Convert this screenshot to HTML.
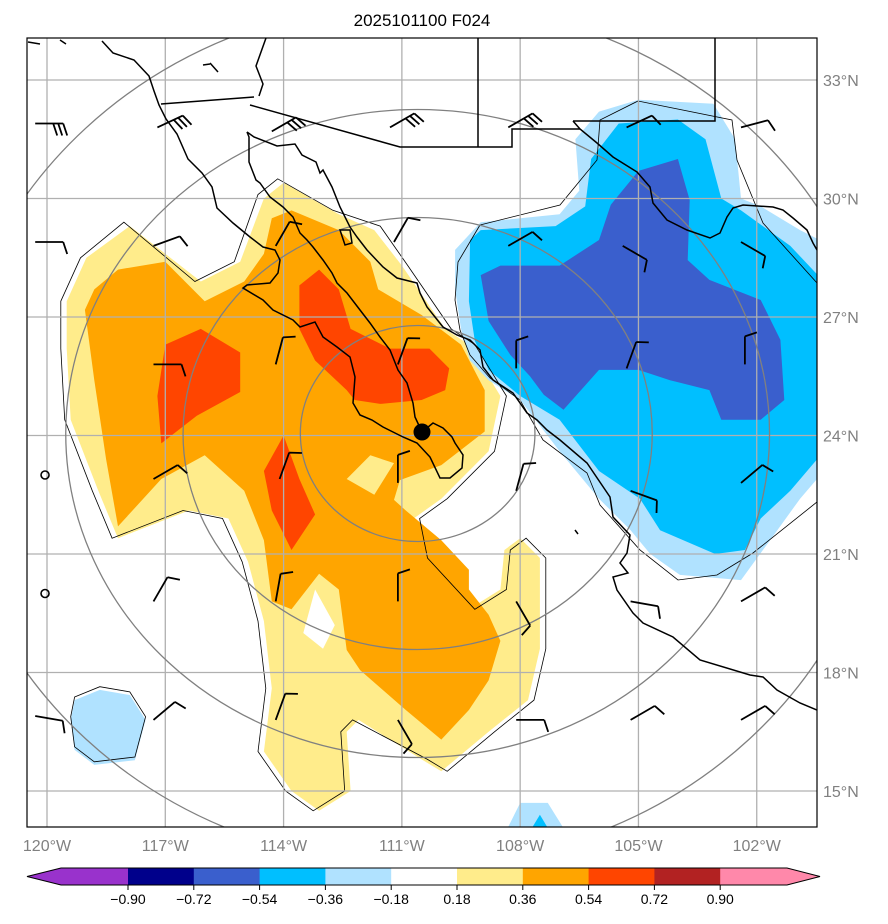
<!DOCTYPE html>
<html><head><meta charset="utf-8"><style>
body{margin:0;background:#fff;}
svg{display:block;font-family:"Liberation Sans","DejaVu Sans",sans-serif;}
</style></head><body>
<svg id="chart" width="888" height="924" viewBox="0 0 888 924" xmlns="http://www.w3.org/2000/svg">
<text x="422" y="26" font-size="17" text-anchor="middle" fill="#000">2025101100 F024</text>
<defs><clipPath id="mapclip"><rect x="27" y="38" width="790" height="789"/></clipPath></defs>
<g id="fills" clip-path="url(#mapclip)"></g>
<g id="grid" clip-path="url(#mapclip)"></g>
<g id="rings" clip-path="url(#mapclip)"></g>
<g id="coast" clip-path="url(#mapclip)" fill="none" stroke="#000" stroke-width="1.5"></g>
<g id="barbs" clip-path="url(#mapclip)" stroke="#000" stroke-width="1.8" fill="none"></g>
<rect x="27" y="38" width="790" height="789" fill="none" stroke="#000" stroke-width="1.2"/>
<g id="axes" font-size="16" fill="#808080"></g>
<g id="cbar"></g>
</svg>
<script>
// ---- data ----
const lonTicks=[-120,-117,-114,-111,-108,-105,-102];
const latTicks=[33,30,27,24,21,18,15];
const levels=[-0.90,-0.72,-0.54,-0.36,-0.18,0.18,0.36,0.54,0.72,0.90];
const levelColors=["#9932CC","#00008B","#3A5FCD","#00BFFF","#B0E2FF","#FFFFFF","#FFEC8B","#FFA500","#FF4500","#B22222","#FF88AA"];
const center=[-110.6,24.05];
const ringRadiiDeg=[3,6,9,12];
const yellow=[[-119.5,27.4],[-119,28.5],[-117.9,29.3],[-116.1,27.9],[-115.1,28.4],[-114.5,30],[-114,30.4],[-112.6,29.6],[-111.7,29.2],[-111,28.3],[-109.9,26.7],[-109.3,26.3],[-108.5,25],[-108.8,23.6],[-110,22.4],[-110.7,21.9],[-110.5,20.9],[-109.3,19.6],[-108.5,20.1],[-108.4,21.1],[-108,21.4],[-107.5,20.9],[-107.5,18.6],[-107.8,17.3],[-108.8,16.5],[-110,15.5],[-110.5,15.8],[-112.1,16.8],[-112.4,16.5],[-112.3,15],[-113.1,14.5],[-113.8,15],[-114.5,16],[-114.3,17.6],[-114.5,19.3],[-114.9,20.8],[-115.4,21.9],[-116.4,22.1],[-118.2,21.4],[-118.7,22.6],[-119.4,24.4],[-119.5,26.2]];
const yellowHole=[[-113.2,20.1],[-112.7,19.2],[-113,18.6],[-113.5,19.0]];
const orange=[[-119.04,27.18],[-118.8,27.7],[-118.2,28.2],[-117,28.4],[-116,27.4],[-115,27.9],[-114.5,28.6],[-114.3,29.5],[-113.8,29.7],[-112.6,29.2],[-111.8,28.4],[-111.6,27.7],[-110.5,27.05],[-109.5,26.3],[-108.9,25.15],[-108.9,24.1],[-110,23.25],[-111.05,22.87],[-111.2,22.37],[-110.9,22.1],[-110,21.35],[-109.3,20.6],[-109.3,20.1],[-108.8,19.46],[-108.5,18.8],[-108.8,17.8],[-109.3,17.05],[-110,16.3],[-110.9,17.05],[-112.06,18.06],[-112.4,18.57],[-112.6,20.1],[-113.1,20.5],[-113.8,19.6],[-114.3,19.8],[-114.5,21.35],[-115,22.6],[-116,23.5],[-117.1,22.9],[-118.2,21.7],[-118.5,23.4],[-118.8,25.4]];
const yellowIsland=[[-112.4,22.9],[-111.8,23.5],[-111.2,23.3],[-111.7,22.5]];
const red1=[[-117,26.3],[-116.1,26.7],[-115.1,26.1],[-115.1,25.1],[-116.2,24.5],[-117.1,23.8],[-117.2,25]];
const red2=[[-113.6,27.8],[-113.1,28.2],[-112.6,27.7],[-112.3,26.7],[-111.3,26.2],[-110.3,26.2],[-109.8,25.7],[-109.9,25.15],[-110.5,24.9],[-111.55,24.8],[-112.2,24.9],[-112.4,25.15],[-113.2,25.9],[-113.6,26.7]];
const red3=[[-114,24],[-113.6,22.9],[-113.2,22],[-113.8,21.1],[-114.3,22.1],[-114.5,23.1]];
const lightBlue=[[-109.65,28.7],[-109,29.4],[-107,29.6],[-106.5,30.2],[-106.6,31.5],[-106,32.2],[-105,32.5],[-103.1,32.4],[-102.55,31.5],[-102.4,30],[-101.9,29.8],[-100.9,29.2],[-100.3,28.9],[-100.3,23.1],[-100.9,22.4],[-101.66,21.35],[-102.4,20.34],[-103.95,20.47],[-104.7,21],[-105.2,21.6],[-106,22.4],[-107,23.6],[-108,24.9],[-108.8,25.4],[-109.27,25.9],[-109.5,26.7],[-109.65,27.7]];
const skyBlue=[[-109.27,28.95],[-109,29.2],[-107.1,29.3],[-106.35,29.8],[-106.2,31],[-105.5,31.9],[-104,32],[-103.3,31.5],[-102.9,30],[-102.4,29.7],[-101.15,28.8],[-100.3,27.9],[-100.3,23.6],[-101.15,22.6],[-101.9,21.9],[-102.3,21.1],[-103.05,21],[-104.45,21.6],[-104.96,22.4],[-106,23.1],[-107,24.4],[-108,25],[-108.8,25.66],[-109.15,26.4],[-109.3,27.4]];
const royalBlue=[[-109,28.06],[-108.5,28.3],[-107,28.3],[-106,28.95],[-105.7,29.84],[-105,30.7],[-104,31],[-103.7,29.96],[-103.75,28.44],[-103.2,27.94],[-101.9,27.43],[-101.4,26.42],[-101.3,24.9],[-101.9,24.4],[-102.9,24.4],[-103.2,25.15],[-104.2,25.4],[-105,25.66],[-106,25.66],[-106.9,24.65],[-107.4,25.03],[-107.75,25.5],[-108.25,26.04],[-108.8,26.9]];
const blobSW=[[-119.3,17.3],[-118.66,17.56],[-117.9,17.43],[-117.5,16.8],[-117.77,15.78],[-118.8,15.66],[-119.3,16.04],[-119.4,16.8]];
const blobS=[[-108.4,13.9],[-108,14.7],[-107.3,14.7],[-106.8,13.9]];
const blobS2=[[-107.8,13.9],[-107.5,14.4],[-107.2,13.9]];
// wind barbs: lon, lat, staff angle (deg, 0=up, clockwise), barb count
const barbLon=[-120.3,-117.2,-114.3,-111.3,-108.3,-105.3,-102.4,
 -120.3,-117.3,-114.2,-111.2,-108.3,-105.4,-102.4,
 -117.3,-114.2,-111.1,-108.1,-105.3,-102.3,
 -117.3,-114.1,-111.1,-108.1,-105.2,-102.4,
 -117.3,-114.2,-111.1,-108.1,-105.2,-102.4,
 -120.3,-117.3,-114.2,-111.1,-108.1,-105.2,-102.4];
const barbLat=[31.9,31.8,31.7,31.8,31.8,31.8,31.8,
 28.9,28.8,28.8,28.9,28.8,28.8,28.9,
 25.8,25.8,25.8,25.7,25.7,25.8,
 22.9,22.9,22.8,22.6,22.6,22.8,
 19.8,19.8,19.8,19.8,19.8,19.8,
 16.9,16.8,16.8,16.8,16.8,16.8,16.8];
const barbDir=[90,65,60,60,60,65,75,
 90,70,30,30,60,120,120,
 90,15,20,0,20,0,
 60,20,0,15,110,50,
 30,10,0,150,100,60,
 100,50,20,150,90,60,60];
const barbN=[3,3,3,3,3,1,1,
 1,1,1,1,1,1,1,
 1,1,1,1,1,1,
 1,1,1,1,1,1,
 1,1,1,1,1,1,
 1,1,1,1,1,1,1];
const calmLon=[-120.05,-120.05];
const calmLat=[23.0,20.0];

// ---- axes ----
const X=lon=>47+(lon+120)*39.43;
const Y=lat=>80+(33-lat)*39.5;
const NS="http://www.w3.org/2000/svg";
function mk(tag,attrs,parent){const e=document.createElementNS(NS,tag);for(const k in attrs)e.setAttribute(k,attrs[k]);parent.appendChild(e);return e;}
const pts=a=>a.map(p=>X(p[0]).toFixed(1)+","+Y(p[1]).toFixed(1)).join(" ");

const fills=document.getElementById("fills");
function poly(arr,color,name){const e=mk("polygon",{points:pts(arr),fill:color},fills);

return e;}
function outline(arr,name){const e=mk("polygon",{points:pts(arr),fill:"none",stroke:"#000","stroke-width":0.8},fills);

}
poly(yellow,levelColors[6],"fill-0.18-0.36");
poly(orange,levelColors[7],"fill-0.36-0.54");
poly(yellowHole,"#FFFFFF","fill-gap");
poly(yellowIsland,levelColors[6],"fill-0.18-0.36-island");
poly(red1,levelColors[8],"fill-0.54-0.72-west");
poly(red2,levelColors[8],"fill-0.54-0.72-central");
poly(red3,levelColors[8],"fill-0.54-0.72-south");
poly(lightBlue,levelColors[4],"fill-neg-0.18");
poly(skyBlue,levelColors[3],"fill-neg-0.36");
poly(royalBlue,levelColors[2],"fill-neg-0.54");
poly(blobSW,levelColors[4],"fill-neg-0.18-southwest");
poly(blobS,levelColors[4],"fill-neg-0.18-south");
poly(blobS2,levelColors[3],"fill-neg-0.36-south");
outline(yellow.map(p=>[p[0]+(p[0]<-112?-0.15:0.15),p[1]+(p[1]>29?0.1:0)]),"zero-contour-positive");
outline(blobSW.map(p=>[p[0],p[1]+0.08]),"zero-contour-southwest");
const negC=mk("path",{d:"M480,225 L560,205 L597,160 L600,120 L638,101 L732,120 L737,160 L763,223 L817,283 M817,502 L753,553 L717,575 L678,580 L640,550 L600,505 L587,473 L543,440 L520,400 L490,378 L470,355 L460,330 L455,300 L458,262 L480,225",fill:"none",stroke:"#000","stroke-width":0.8},fills);



// grid
const grid=document.getElementById("grid");
lonTicks.forEach(l=>{const e=mk("line",{x1:X(l),x2:X(l),y1:38,y2:827,stroke:"#b0b0b0","stroke-width":1.3},grid);

});
latTicks.forEach(l=>{const e=mk("line",{x1:27,x2:817,y1:Y(l),y2:Y(l),stroke:"#b0b0b0","stroke-width":1.3},grid);

});

// rings
const rings=document.getElementById("rings");
ringRadiiDeg.forEach(r=>{const e=mk("ellipse",{cx:X(center[0]),cy:Y(center[1]),rx:r*39.1,ry:r*36,fill:"none",stroke:"#808080","stroke-width":1.3},rings);

});

// coastlines (pixel geography paths)
const coast=document.getElementById("coast");
const coastPaths=[
 "M102,41 L113,53 L134,60 L149,76 L154,91 L159,105 L166,119 L177,134 L188,159 L202,173 L212,187 L217,208 L233,223 L250,237 L263,247 L275,250 L280,260 L278,273 L270,283 L247,285 L243,288 L263,300 L273,310 L293,320 L300,327 L315,322 L323,337 L337,347 L350,357 L355,377 L353,403 L360,415 L372,420 L383,427 L403,437 L417,443 L430,457 L440,478 L450,478 L462,468 L463,455 L455,443 L452,437 L443,428 L433,423 L422,432 L415,417 L413,403 L407,383 L398,370 L390,350 L380,337 L370,323 L360,310 L347,293 L337,283 L332,273 L323,260 L313,247 L307,240 L300,233 L293,217 L283,207 L270,197 L260,183 L256,180 L249,162 L249,137 L247,132",
 "M247,132 L254,137 L277,146 L295,144 L302,155 L316,162 L320,173 L323,170 L332,187 L340,207 L350,227 L357,237 L367,250 L383,267 L397,278 L417,283 L420,293 L427,307 L443,327 L457,335 L470,340 L480,350 L483,367 L493,380 L513,393 L527,413 L537,420 L547,430 L560,440 L587,463 L610,497 L613,517 L630,535 L627,553 L620,563 L628,573 L613,577 L617,590 L633,613 L643,623 L673,637 L700,660 L750,675 L763,677 L777,690 L800,703 L817,710",
 "M161,104 L254,97 M250,105 L400,147 L512,147 L512,129 L580,129",
 "M478,38 L478,147 M573,121 L715,121 L715,38",
 "M266,38 L256,66 L263,84 L259,96",
 "M573,121 L580,129 L597,143 L613,157 L637,172 L650,187 L653,203 L667,220 L687,230 L710,238 L720,233 L727,217 L733,208 L743,205 L773,207 L783,210 L793,218 L807,230 L813,243 L817,250",
 "M28,42 L40,44 M60,40 L66,44 M210,63 L218,72 M203,65 L210,64",
 "M340,230 L345,245 L352,243 L350,230 Z M575,530 L578,534"
];
coastPaths.forEach(d=>{const e=mk("path",{d:d},coast);

});
const dot=mk("circle",{cx:422,cy:432,r:8.5,fill:"#000",stroke:"none"},coast);



// barbs
const barbs=document.getElementById("barbs");
barbLon.forEach((lon,i)=>{
 const x0=X(lon),y0=Y(barbLat[i]);const a=barbDir[i]*Math.PI/180;const L=28;
 const dx=Math.sin(a),dy=-Math.cos(a);
 let d=`M${x0.toFixed(1)},${y0.toFixed(1)} L${(x0+dx*L).toFixed(1)},${(y0+dy*L).toFixed(1)}`;
 for(let k=0;k<barbN[i];k++){const bx=x0+dx*(L-k*5),by=y0+dy*(L-k*5);
  const px=bx+(-dy)*12+dx*4,py=by+dx*12+dy*4;
  d+=` M${bx.toFixed(1)},${by.toFixed(1)} L${px.toFixed(1)},${py.toFixed(1)}`;}
 const e=mk("path",{d:d},barbs);
 
 
});
calmLon.forEach((lon,i)=>{const e=mk("circle",{cx:X(lon),cy:Y(calmLat[i]),r:4,"stroke-width":1.6},barbs);

});

// axis labels
const axes=document.getElementById("axes");
lonTicks.forEach(l=>{const t=mk("text",{x:X(l),y:851,"text-anchor":"middle"},axes);t.textContent=Math.abs(l)+"°W";

});
latTicks.forEach(l=>{const t=mk("text",{x:823,y:Y(l)+6},axes);t.textContent=l+"°N";

});

// colorbar
const cb=document.getElementById("cbar");
const cbX0=61,cbX1=787,cbY=868,cbH=17;
const bnd=levels.map((v,i)=>128+i*65.8);
let lt=mk("polygon",{points:`27,${cbY+cbH/2} ${cbX0},${cbY} ${bnd[0]},${cbY} ${bnd[0]},${cbY+cbH} ${cbX0},${cbY+cbH}`,fill:levelColors[0]},cb);


for(let i=0;i<levels.length-1;i++){const r=mk("rect",{x:bnd[i],y:cbY,width:bnd[i+1]-bnd[i]+0.5,height:cbH,fill:levelColors[i+1]},cb);

}
let rt=mk("polygon",{points:`${bnd[9]},${cbY} ${cbX1},${cbY} 820,${cbY+cbH/2} ${cbX1},${cbY+cbH} ${bnd[9]},${cbY+cbH}`,fill:levelColors[10]},cb);


let ol=mk("polygon",{points:`27,${cbY+cbH/2} ${cbX0},${cbY} ${cbX1},${cbY} 820,${cbY+cbH/2} ${cbX1},${cbY+cbH} ${cbX0},${cbY+cbH}`,fill:"none",stroke:"#000","stroke-width":1},cb);


levels.forEach((v,i)=>{const tk=mk("line",{x1:bnd[i],x2:bnd[i],y1:cbY+cbH,y2:cbY+cbH+5,stroke:"#000"},cb);


const t=mk("text",{x:bnd[i],y:904,"text-anchor":"middle","font-size":14,fill:"#000"},cb);
t.textContent=(v<0?"\u2212":"")+Math.abs(v).toFixed(2);

});
</script>
</body></html>
